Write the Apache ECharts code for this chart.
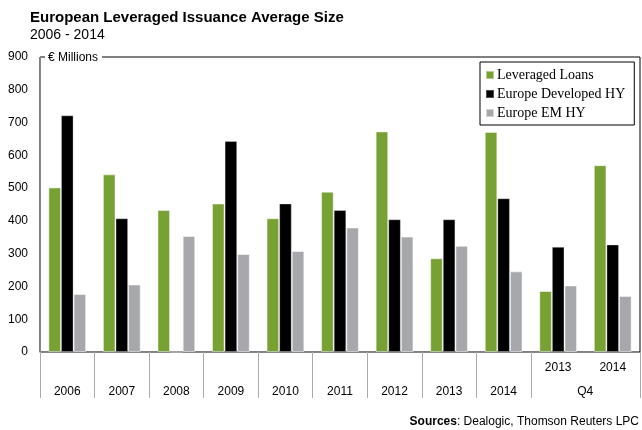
<!DOCTYPE html>
<html>
<head>
<meta charset="utf-8">
<script src="https://cdn.jsdelivr.net/npm/echarts@6/dist/echarts.min.js"></script>
<style>
  html, body { margin: 0; padding: 0; background: #fff; }
  #chart { width: 642px; height: 430px; }
</style>
</head>
<body>
<div id="chart"></div>
<script>
// categories: 9 full years + two Q4 periods
var years = ['2006', '2007', '2008', '2009', '2010', '2011', '2012', '2013', '2014', 'Q4 2013', 'Q4 2014'];
var loans = [502, 542, 433, 453, 408, 489, 673, 286, 671, 186, 570];
var devHY = [722, 408, 0, 644, 453, 433, 405, 405, 469, 321, 328];
var emHY = [177, 206, 354, 299, 308, 380, 352, 324, 246, 203, 171];
var yTicks = [0, 100, 200, 300, 400, 500, 600, 700, 800, 900];

var font = 'Arial, "Liberation Sans", sans-serif';
var chart = echarts.init(document.getElementById('chart'));

var option = {
    animation: false,
    backgroundColor: '#fff',
    title: [{
        text: 'European Leveraged Issuance Average Size',
        subtext: '2006 - 2014',
        left: 25,
        top: 5,
        itemGap: 3,
        textStyle: { fontFamily: font, fontSize: 15, fontWeight: 'bold', color: '#000' },
        subtextStyle: { fontFamily: font, fontSize: 14, color: '#000' }
    }, {
        text: '{b|Sources}: Dealogic, Thomson Reuters LPC',
        right: -2,
        top: 411,
        textStyle: {
            fontFamily: font, fontSize: 12, fontWeight: 'normal', color: '#000',
            rich: { b: { fontFamily: font, fontSize: 12, fontWeight: 'bold', color: '#000' } }
        }
    }],
    legend: {
        orient: 'vertical',
        left: 480,
        top: 62,
        padding: [6, 9, 5, 5],
        itemWidth: 8,
        itemHeight: 8,
        itemGap: 5,
        borderColor: '#000',
        borderWidth: 1,
        icon: 'rect',
        textStyle: { fontFamily: '"Liberation Serif", "Times New Roman", serif', fontSize: 14, color: '#000', padding: [0, 0, 0, -2] },
        data: ['Leveraged Loans', 'Europe Developed HY', 'Europe EM HY']
    },
    grid: {
        left: 40,
        right: 2,
        top: 57,
        bottom: 78,
        show: true,
        borderColor: '#000',
        borderWidth: 1
    },
    xAxis: {
        type: 'category',
        data: years,
        axisLine: { lineStyle: { color: '#888', width: 1 } },
        axisTick: {
            show: true,
            length: 46,
            lineStyle: { color: '#aaa' },
            // no divider between the two Q4 columns
            interval: function (index) { return index !== 10; }
        },
        axisLabel: {
            interval: 0,
            margin: 4,
            fontFamily: font,
            fontSize: 12,
            color: '#000',
            lineHeight: 24,
            formatter: function (v) {
                if (v.indexOf('Q4') === 0) {
                    var y = v.split(' ')[1];
                    return y === '2013' ? y + '\n{q|Q4}' : y + '\n ';
                }
                return '\n' + v;
            },
            rich: {
                q: { fontFamily: font, fontSize: 12, color: '#000', lineHeight: 24, padding: [0, 0, 0, 54] }
            }
        }
    },
    yAxis: {
        type: 'value',
        min: 0,
        max: 900,
        interval: 100,
        name: '{t|€ Millions}',
        nameLocation: 'end',
        nameGap: -1,
        nameTextStyle: {
            fontFamily: font, fontSize: 12, color: '#000', align: 'left', verticalAlign: 'middle',
            padding: [0, 0, 0, 5],
            rich: { t: { fontFamily: font, fontSize: 12, color: '#000', backgroundColor: '#fff', padding: [1, 4, 1, 3] } }
        },
        axisLine: { show: true, lineStyle: { color: '#888', width: 1 } },
        axisTick: { show: false },
        splitLine: { show: false },
        axisLabel: {
            margin: 12,
            fontFamily: font,
            fontSize: 12,
            color: '#000',
            customValues: yTicks
        }
    },
    series: [{
        name: 'Leveraged Loans',
        type: 'bar',
        data: loans,
        barWidth: 12.6,
        barGap: '0%',
        itemStyle: { color: '#77a132', borderColor: 'rgba(255,255,255,0.45)', borderWidth: 1 }
    }, {
        name: 'Europe Developed HY',
        type: 'bar',
        data: devHY,
        barWidth: 12.6,
        barGap: '0%',
        itemStyle: { color: '#000', borderColor: 'rgba(255,255,255,0.3)', borderWidth: 1 }
    }, {
        name: 'Europe EM HY',
        type: 'bar',
        data: emHY,
        barWidth: 12.6,
        barGap: '0%',
        itemStyle: { color: '#a7a8ac', borderColor: 'rgba(255,255,255,0.5)', borderWidth: 1 }
    }]
};

chart.setOption(option);
</script>
</body>
</html>
